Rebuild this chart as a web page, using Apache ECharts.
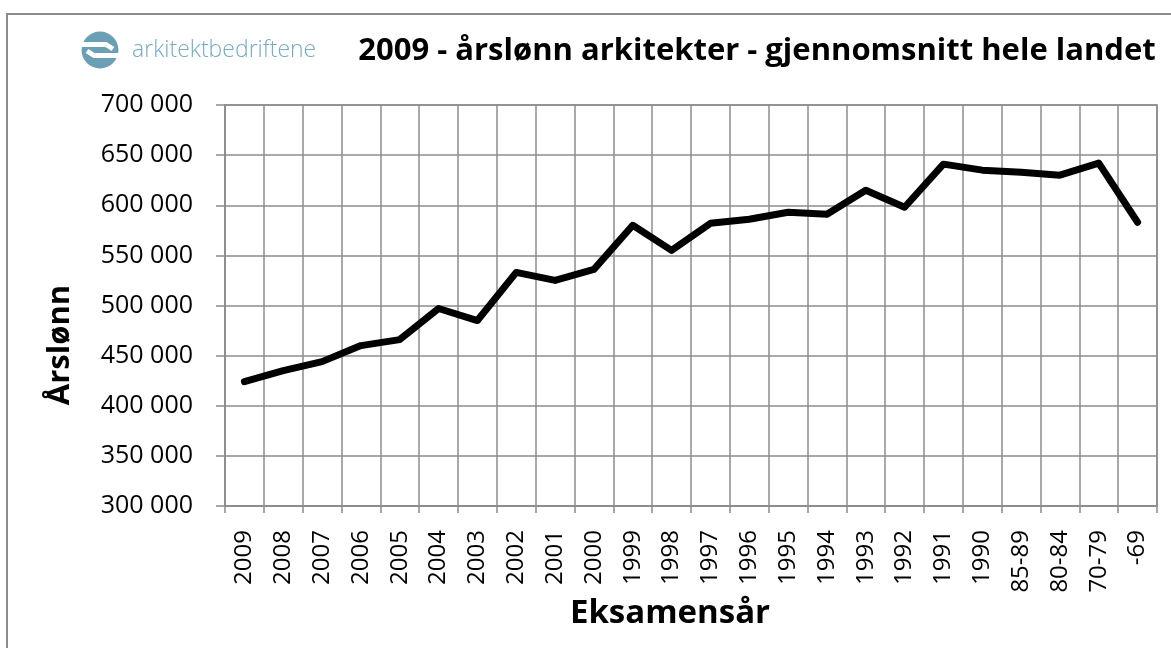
<!DOCTYPE html>
<html>
<head>
<meta charset="utf-8">
<title>Årslønn arkitekter 2009</title>
<script src="https://cdn.jsdelivr.net/npm/echarts@6/dist/echarts.min.js"></script>
<style>
  html, body { margin: 0; padding: 0; background: #fff; }
  #chart { width: 1171px; height: 648px; }
</style>
</head>
<body>
<div id="chart"></div>
<script>
// eksamensår (x-akse)
const years = [
  "2009", "2008", "2007", "2006", "2005", "2004", "2003", "2002", "2001", "2000",
  "1999", "1998", "1997", "1996", "1995", "1994", "1993", "1992", "1991", "1990",
  "85-89", "80-84", "70-79", "-69"
];
// gjennomsnittlig årslønn
const salary = [
  424000, 435000, 444000, 460000, 466000, 497000, 485000, 533000, 525000, 536000,
  580000, 555000, 582000, 586000, 593000, 591000, 615000, 598000, 641000, 635000,
  633000, 630000, 642000, 583000
];
const yMin = 300000;
const yMax = 700000;
const yStep = 50000;

const font = "'Open Sans', 'Noto Sans', sans-serif";
const gridColor = "#8c8c8c";

let ec = echarts.init(document.getElementById("chart"));

const option = {
  backgroundColor: "#fff",
  animation: false,
  title: {
    text: "2009 - årslønn arkitekter - gjennomsnitt hele landet",
    left: 752,
    top: 31,
    textAlign: "center",
    textStyle: {
      fontFamily: font,
      fontWeight: "bold",
      fontSize: 31,
      color: "#000"
    }
  },
  grid: {
    show: true,
    left: 225,
    right: 14,
    top: 105,
    bottom: 142,
    borderColor: gridColor,
    borderWidth: 1.5
  },
  xAxis: {
    type: "category",
    data: years,
    boundaryGap: true,
    axisLine: { show: true, lineStyle: { color: gridColor, width: 1.5 } },
    axisTick: { show: true, length: 7, lineStyle: { color: gridColor, width: 1.5 } },
    splitLine: { show: true, lineStyle: { color: gridColor, width: 1.5 } },
    axisLabel: {
      rotate: 90,
      margin: 24,
      interval: 0,
      fontFamily: font,
      fontSize: 24,
      color: "#000"
    }
  },
  yAxis: {
    type: "value",
    min: yMin,
    max: yMax,
    interval: yStep,
    axisLine: { show: true, lineStyle: { color: gridColor, width: 1.5 } },
    axisTick: { show: true, length: 9, lineStyle: { color: gridColor, width: 1.5 } },
    splitLine: { show: true, lineStyle: { color: gridColor, width: 1.5 } },
    axisLabel: {
      margin: 32,
      fontFamily: font,
      fontSize: 25,
      color: "#000",
      formatter: function (v) {
        return String(v).replace(/\B(?=(\d{3})+(?!\d))/g, " ");
      }
    }
  },
  series: [
    {
      type: "line",
      data: salary,
      symbol: "none",
      lineStyle: { color: "#000", width: 7, cap: "round", join: "round" }
    }
  ],
  graphic: [
    // ytre ramme
    {
      type: "rect",
      shape: { x: 7, y: 14, width: 1200, height: 700 },
      style: { fill: "none", stroke: "#8c8c8c", lineWidth: 2 },
      silent: true
    },
    // logo
    {
      type: "circle",
      shape: { cx: 100, cy: 50, r: 18.5 },
      style: { fill: "#6a9fb6" }
    },
    {
      type: "polyline",
      shape: { points: [[81, 44.5], [106, 44.5], [113, 49]] },
      style: { stroke: "#fff", lineWidth: 5, fill: "none", lineJoin: "round" }
    },
    {
      type: "polyline",
      shape: { points: [[87, 51], [94, 55.5], [119, 55.5]] },
      style: { stroke: "#fff", lineWidth: 5, fill: "none", lineJoin: "round" }
    },
    {
      type: "text",
      x: 132,
      y: 50,
      style: {
        text: "arkitektbedriftene",
        fontFamily: font,
        fontSize: 23,
        fontWeight: 300,
        fill: "#7aaac0",
        verticalAlign: "middle"
      }
    },
    // aksetitler
    {
      type: "text",
      x: 60,
      y: 345,
      rotation: Math.PI / 2,
      style: {
        text: "Årslønn",
        fontFamily: font,
        fontWeight: "bold",
        fontSize: 31,
        fill: "#000",
        align: "center",
        verticalAlign: "middle"
      }
    },
    {
      type: "text",
      x: 670,
      y: 614,
      style: {
        text: "Eksamensår",
        fontFamily: font,
        fontWeight: "bold",
        fontSize: 33,
        fill: "#000",
        align: "center",
        verticalAlign: "middle"
      }
    }
  ]
};

ec.setOption(option);
</script>
</body>
</html>
